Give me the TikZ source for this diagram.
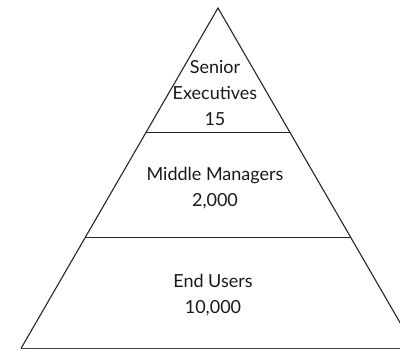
\documentclass[tikz,border=0pt]{standalone}
\usepackage{fontspec}
\setmainfont{Lato}
\usetikzlibrary{calc}

\begin{document}
\begin{tikzpicture}[x=1pt,y=1pt]
            \tikzstyle{niveau} = [align=center,
            font=\fontsize{18}{26}\selectfont,
            text=black!90]
            \tikzstyle{bord} = [line width=1.1pt, black!85]
            \clip (0,0) rectangle (400,350);
            \coordinate (sommet) at (218,342);
            \coordinate (gauche) at (21,1.5);
            \coordinate (droite) at (415,1.5);
            \coordinate (g1) at ($(sommet)!0.3666!(gauche)$);
            \coordinate (d1) at ($(sommet)!0.3666!(droite)$);
            \coordinate (g2) at ($(sommet)!0.6745!(gauche)$);
            \coordinate (d2) at ($(sommet)!0.6745!(droite)$);

            \draw [bord] (gauche) -- (sommet) -- (droite);
            \draw [bord, line width=1.8pt, black!75] (gauche) -- (droite);
            \draw [bord] (g1) -- (d1);
            \draw [bord] (g2) -- (d2);

            \node (niveau1)[niveau] at (215,257) {Senior\\ Executives\\ 15};
            \node (niveau2)[niveau] at (215,162) {Middle Managers\\ 2,000};
            \node (niveau3)[niveau] at (213,55) {End Users\\ 10,000};
        \end{tikzpicture}
\end{document}
